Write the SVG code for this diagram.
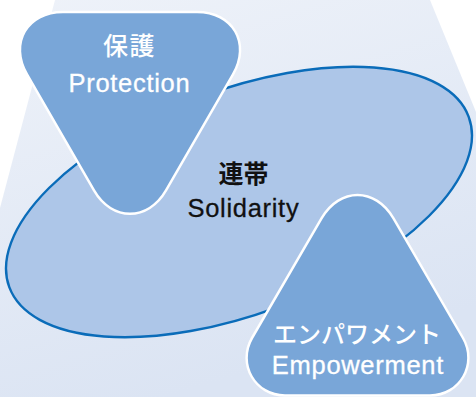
<svg xmlns="http://www.w3.org/2000/svg" width="476" height="397" viewBox="0 0 476 397">
  <defs>
    <linearGradient id="bgGrad" x1="0" y1="0" x2="0.35" y2="1">
      <stop offset="0" stop-color="#eef2f9"/>
      <stop offset="1" stop-color="#dbe4f3"/>
    </linearGradient>
    <style>
      .tri { fill: #79a6d8; stroke: #ffffff; stroke-width: 2.5; stroke-linejoin: round; }
      .ell { fill: #adc6e8; stroke: #0a6cb9; stroke-width: 2.4; }
      .jp { font-family: "Noto Sans CJK JP", "Noto Sans", sans-serif; text-anchor: middle; }
      .en { font-family: "Liberation Sans", Arial, sans-serif; font-size: 25.5px; letter-spacing: 0.7px; text-anchor: middle; stroke-width: 0.3px; }
      .white { fill: #ffffff; }
      .dark { fill: #111111; }
      .en.white { stroke: #ffffff; }
      .en.dark { stroke: #111111; }
    </style>
  </defs>
  <rect width="476" height="397" fill="#ffffff"/>
  <polygon id="background" points="55,0 430,0 476,112 476,397 0,397 0,208" fill="url(#bgGrad)"/>
  <g id="connectors"/>
  <g id="node-solidarity">
    <ellipse class="ell" cx="239" cy="202" rx="245" ry="112" transform="rotate(-20.35 239 202)"/>
    <text class="jp dark" x="243.5" y="183" font-size="25" font-weight="bold">連帯</text>
    <text class="en dark" x="243.4" y="217">Solidarity</text>
  </g>
  <g id="node-protection">
    <path class="tri" d="M63,12 L197,12 C233,12 251,43.2 233,74.4 L166,190.4 C148,221.6 112,221.6 94,190.4 L27,74.4 C9,43.2 27,12 63,12 Z"/>
    <text class="jp white" x="129.5" y="55" font-size="25" font-weight="500" letter-spacing="1.5">保護</text>
    <text class="en white" x="129.4" y="92">Protection</text>
  </g>
  <g id="node-empowerment">
    <path class="tri" d="M285,395.5 L430,395.5 C460,395.5 478,364 463,338 L393.5,218.4 C375.5,187.2 339.5,187.2 321.5,218.4 L252,338 C237,364 255,395.5 285,395.5 Z"/>
    <text class="jp white" x="357" y="343" font-size="24" font-weight="500">エンパワメント</text>
    <text class="en white" x="357.9" y="374">Empowerment</text>
  </g>
</svg>
